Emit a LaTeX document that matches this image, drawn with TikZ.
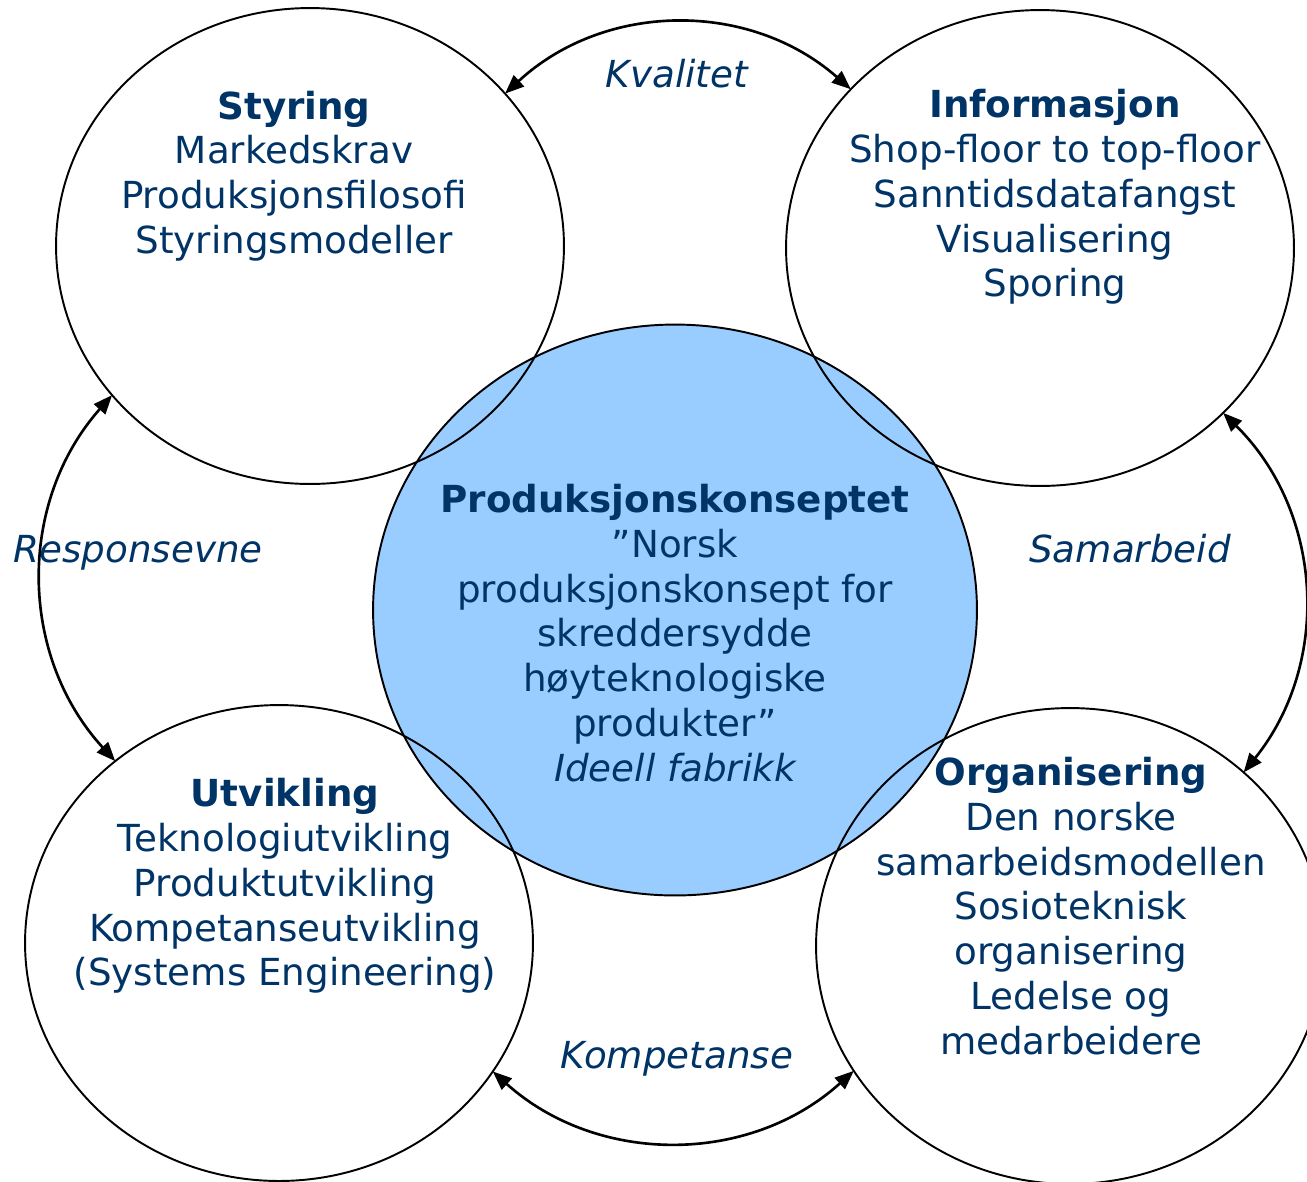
\documentclass[tikz,border=0pt]{standalone}
\usepackage{fontspec}
\setmainfont{DejaVu Sans}
\usetikzlibrary{shapes.geometric,arrows.meta}
\definecolor{navy}{RGB}{0,51,102}
\definecolor{core}{RGB}{153,204,255}
\begin{document}
\begin{tikzpicture}[x=0.02cm,y=0.02cm,
  ring/.style={ellipse,draw=black,line width=1.1pt,minimum width=10.16cm,minimum height=9.52cm,inner sep=0pt,outer sep=0pt},
  hub/.style={ellipse,draw=black,fill=core,line width=1.1pt,minimum width=12.08cm,minimum height=11.42cm,inner sep=0pt,outer sep=0pt},
  block/.style={text=navy,align=center,font=\fontsize{21.2}{25.5}\selectfont,inner sep=0pt},
  link/.style={text=navy,font=\fontsize{21.2}{25.5}\selectfont\itshape,inner sep=0pt,anchor=base},
  flow/.style={line width=1.5pt,{Triangle[length=0.38cm,width=0.3cm]}-{Triangle[length=0.38cm,width=0.3cm]}}]
\useasboundingbox (0,0) rectangle (1307,-1181);

% central concept, drawn first so the outer rings stay visible over it
\node[hub] (core) at (675,-610) {};

% the four outer areas
\node[ring] (sty) at (310,-246) {};
\node[ring] (inf) at (1040,-248) {};
\node[ring] (utv) at (279,-943) {};
\node[ring] (org) at (1070,-946) {};

% two-way relations between neighbouring areas
\draw[flow] (sty.38) to[bend left=42] (inf.140);
\draw[flow] (sty.217) to[bend right=42] (utv.132);
\draw[flow] (inf.-42) to[bend left=42] (org.45);
\draw[flow] (utv.-31) to[bend right=42] (org.210);

% relation labels
\node[link] (kva) at (677,-87) {Kvalitet};
\node[link] (res) at (138,-562) {Responsevne};
\node[link] (sam) at (1130,-562) {Samarbeid};
\node[link] (kom) at (677,-1068) {Kompetanse};

% area texts
\node[block] (tsty) at (294,-176) {{\bfseries Styring}\\Markedskrav\\Produksjonsfilosofi\\Styringsmodeller};
\node[block] (tinf) at (1055,-197) {{\bfseries Informasjon}\\Shop-floor to top-floor\\Sanntidsdatafangst\\Visualisering\\Sporing};
\node[block] (tcore) at (675,-633) {{\bfseries Produksjonskonseptet}\\”Norsk\\produksjonskonsept for\\skreddersydde\\høyteknologiske\\produkter”\\{\itshape Ideell fabrikk}};
\node[block] (tutv) at (285,-886) {{\bfseries Utvikling}\\Teknologiutvikling\\Produktutvikling\\Kompetanseutvikling\\(Systems Engineering)};
\node[block] (torg) at (1071,-906) {{\bfseries Organisering}\\Den norske\\samarbeidsmodellen\\Sosioteknisk\\organisering\\Ledelse og\\medarbeidere};
\end{tikzpicture}
\end{document}
